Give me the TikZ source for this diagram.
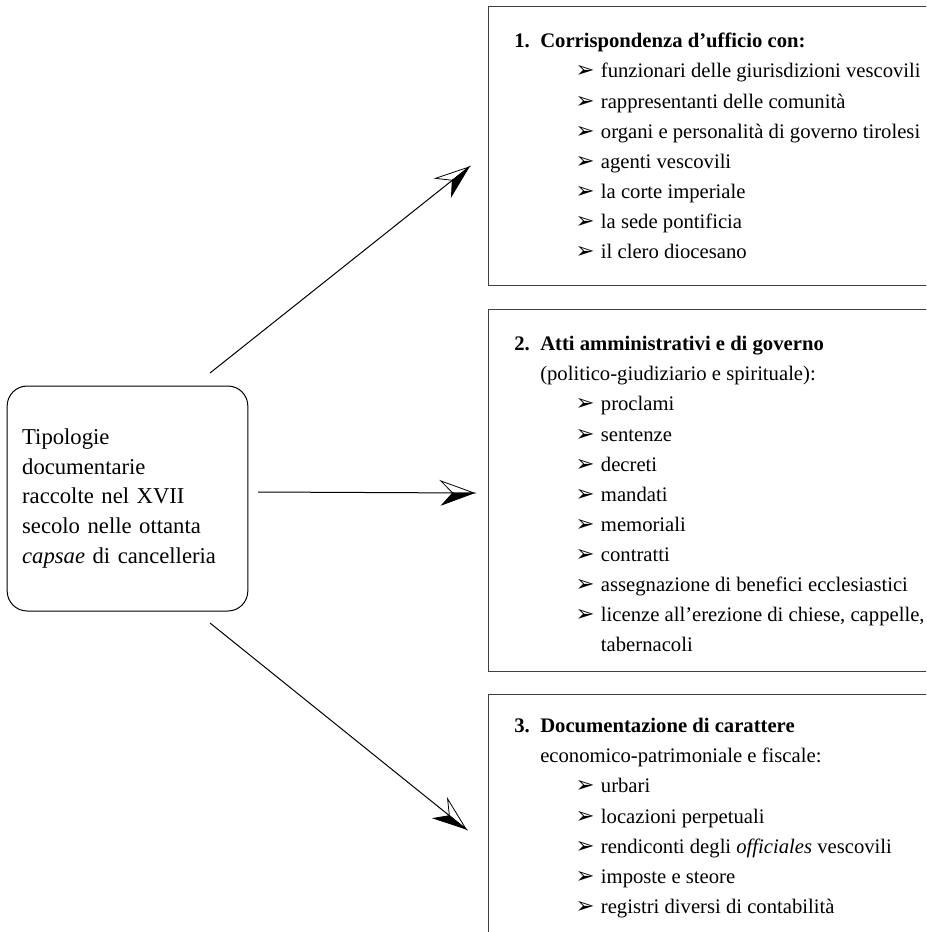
\documentclass[tikz,border=0pt]{standalone}
\usepackage{fontspec}
\setmainfont{Liberation Serif}
\newfontfamily\dingfont{DejaVu Sans}
\usetikzlibrary{positioning}

% half open, half filled arrow head
\pgfdeclarearrow{
  name = HalfStealth,
  setup code = {
    \pgfarrowssettipend{0pt}
    \pgfarrowssetlineend{-15pt}
    \pgfarrowssetbackend{-25pt}
    \pgfarrowshullpoint{0pt}{0pt}
    \pgfarrowshullpoint{-25pt}{9pt}
    \pgfarrowshullpoint{-24pt}{-9pt}
  },
  drawing code = {
    \pgfsetdash{}{0pt}
    \pgfsetmiterjoin
    \pgfsetlinewidth{0.6pt}
    \pgfsetfillcolor{black}
    \pgfpathmoveto{\pgfpointorigin}
    \pgfpathlineto{\pgfpoint{-25pt}{9pt}}
    \pgfpathlineto{\pgfpoint{-16pt}{0pt}}
    \pgfpathclose
    \pgfusepathqstroke
    \pgfpathmoveto{\pgfpointorigin}
    \pgfpathlineto{\pgfpoint{-24pt}{-9pt}}
    \pgfpathlineto{\pgfpoint{-16pt}{0pt}}
    \pgfpathclose
    \pgfusepathqfillstroke
  }
}

\newcommand{\hd}[2]{\makebox[19.5pt][l]{\textbf{#1}}\textbf{#2}}
\newcommand{\itm}{\hspace*{46pt}\makebox[19pt][l]{\dingfont\fontsize{17}{17}\selectfont ➢}}

\begin{document}
\begin{tikzpicture}[
    x=0.75pt,y=-0.75pt,
    font=\fontsize{15.5}{22.6}\selectfont,
    frame/.style={draw=black!75,line width=1pt,anchor=north west,inner sep=0pt,minimum width=400pt},
    listtext/.style={anchor=north west,inner sep=0pt,align=left},
    topic/.style={draw,line width=0.75pt,rounded corners=15pt,align=left,text width=158pt,inner xsep=11.25pt,minimum height=168.75pt,font=\fontsize{17}{22.2}\selectfont},
    link/.style={line width=0.75pt,-HalfStealth}
    ]
  \useasboundingbox (0,0) rectangle (926,932);
  \clip (0,0) rectangle (926,932);

  \node[topic] (topic) at (127.5,498.5) {Tipologie\\documentarie\\raccolte nel XVII\\secolo nelle ottanta\\\textit{capsae} di cancelleria\\[-6pt]};

  \node[frame,minimum height=209.25pt] (box1) at (488,6) {};
  \node[frame,minimum height=271.5pt] (box2) at (488,309) {};
  \node[frame,minimum height=250pt] (box3) at (488,694) {};

  \node[listtext] (list1) at (514,33) {\hd{1.}{Corrispondenza d’ufficio con:}\\
    \itm funzionari delle giurisdizioni vescovili\\
    \itm rappresentanti delle comunità\\
    \itm organi e personalità di governo tirolesi\\
    \itm agenti vescovili\\
    \itm la corte imperiale\\
    \itm la sede pontificia\\
    \itm il clero diocesano};

  \node[listtext] (list2) at (514,336) {\hd{2.}{Atti amministrativi e di governo}\\
    \hspace*{19.5pt}(politico-giudiziario e spirituale):\\
    \itm proclami\\
    \itm sentenze\\
    \itm decreti\\
    \itm mandati\\
    \itm memoriali\\
    \itm contratti\\
    \itm assegnazione di benefici ecclesiastici\\
    \itm licenze all’erezione di chiese, cappelle,\\
    \hspace*{65pt}tabernacoli};

  \node[listtext] (list3) at (514,718) {\hd{3.}{Documentazione di carattere}\\
    \hspace*{19.5pt}economico-patrimoniale e fiscale:\\
    \itm urbari\\
    \itm locazioni perpetuali\\
    \itm rendiconti degli \textit{officiales} vescovili\\
    \itm imposte e steore\\
    \itm registri diversi di contabilità};

  \coordinate (s1) at (210,373);
  \coordinate (e1) at (469,167);
  \coordinate (s2) at (258,492);
  \coordinate (e2) at (474,493);
  \coordinate (s3) at (210,623);
  \coordinate (e3) at (466,829);

  \draw[link] (s1) -- (e1);
  \draw[link] (s2) -- (e2);
  \draw[link] (s3) -- (e3);

\end{tikzpicture}
\end{document}
